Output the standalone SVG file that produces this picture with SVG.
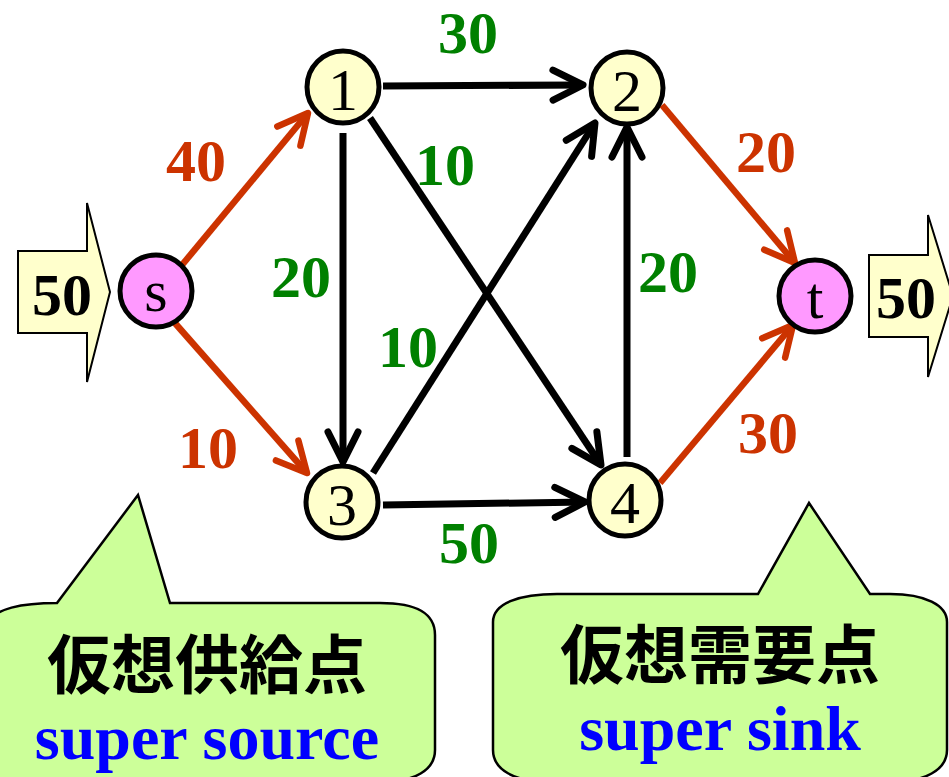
<svg xmlns="http://www.w3.org/2000/svg" width="949" height="777" viewBox="0 0 949 777">
<style>
.lbl{font-family:"Liberation Serif","Times New Roman",serif;font-weight:bold;font-size:60px;text-anchor:middle}
.g{fill:#008000}
.r{fill:#CC3300}
.nd{stroke:#000;stroke-width:5}
.nt{font-family:"Liberation Serif","Times New Roman",serif;font-size:60px;text-anchor:middle;fill:#000}
.blk{stroke:#000;stroke-width:7;fill:none}
.red{stroke:#CC3300;stroke-width:6.5;fill:none}
.blockarrow{fill:#FFFFCC;stroke:#000;stroke-width:2}
.callout{fill:#CCFF99;stroke:#000;stroke-width:2.5}
.cjk{font-family:"Noto Sans CJK JP","Noto Sans CJK SC",sans-serif;font-weight:bold;font-size:64px;text-anchor:middle;fill:#000}
.en{font-family:"Liberation Serif","Times New Roman",serif;font-weight:bold;font-size:64px;text-anchor:middle;fill:#0000FF}
</style>
<defs>
<marker id="ab" markerUnits="userSpaceOnUse" markerWidth="60" markerHeight="60" refX="0" refY="0" orient="auto" overflow="visible">
<path d="M-30,-15 L0,0 L-30,15" fill="none" stroke="#000" stroke-width="7" stroke-linecap="round" stroke-linejoin="round"/>
</marker>
<marker id="ar" markerUnits="userSpaceOnUse" markerWidth="60" markerHeight="60" refX="0" refY="0" orient="auto" overflow="visible">
<path d="M-30,-15 L0,0 L-30,15" fill="none" stroke="#CC3300" stroke-width="6.5" stroke-linecap="round" stroke-linejoin="round"/>
</marker>
</defs>

<g id="supply-arrow">
<polygon class="blockarrow" points="18,251 87,251 87,203 110,292 87,382 87,333 18,333"/>
<text class="lbl" x="62" y="315" fill="#000" font-size="62">50</text>
</g>
<g id="demand-arrow">
<polygon class="blockarrow" points="869,255 928,255 928,215 953,296 928,377 928,337 869,337"/>
<text class="lbl" x="906" y="318" fill="#000" font-size="62">50</text>
</g>

<g id="callout-source">
<path class="callout" d="M -10,625 C -10,608 25,603 57,603 L 138,495 L 170,603 L 380,603 C 415,603 435,612 435,635 L 435,750 C 435,770 415,782 380,782 L -10,782 Z"/>
<text class="cjk" x="207" y="688">仮想供給点</text>
<text class="en" x="207" y="759">super source</text>
</g>
<g id="callout-sink">
<path class="callout" d="M 493,622 C 493,603 520,594 557,594 L 758,594 L 809,503 L 870,594 L 890,594 C 925,594 947,605 947,622 L 947,750 C 947,770 925,782 890,782 L 550,782 C 515,782 493,770 493,750 Z"/>
<text class="cjk" x="720" y="678">仮想需要点</text>
<text class="en" x="720" y="750">super sink</text>
</g>

<g id="connectors">
<line class="red" x1="182" y1="265" x2="308" y2="113" marker-end="url(#ar)"/>
<line class="red" x1="174" y1="322" x2="307" y2="473" marker-end="url(#ar)"/>
<line class="blk" x1="383" y1="86" x2="583" y2="85" marker-end="url(#ab)"/>
<line class="blk" x1="343" y1="133" x2="343" y2="462" marker-end="url(#ab)"/>
<line class="blk" x1="370" y1="118" x2="601" y2="465" marker-end="url(#ab)"/>
<line class="blk" x1="373" y1="473" x2="595" y2="123" marker-end="url(#ab)"/>
<line class="blk" x1="627" y1="457" x2="627" y2="127" marker-end="url(#ab)"/>
<line class="blk" x1="383" y1="505" x2="585" y2="502" marker-end="url(#ab)"/>
<line class="red" x1="662" y1="105" x2="795" y2="263" marker-end="url(#ar)"/>
<line class="red" x1="660" y1="483" x2="793" y2="325" marker-end="url(#ar)"/>
</g>

<g id="edge-labels">
<text class="lbl g" x="468" y="53">30</text>
<text class="lbl r" x="196" y="181">40</text>
<text class="lbl r" x="208" y="468">10</text>
<text class="lbl g" x="445" y="185">10</text>
<text class="lbl g" x="301" y="297">20</text>
<text class="lbl g" x="408" y="367">10</text>
<text class="lbl g" x="668" y="292">20</text>
<text class="lbl r" x="766" y="172">20</text>
<text class="lbl r" x="768" y="453">30</text>
<text class="lbl g" x="469" y="563">50</text>
</g>

<g id="node-s"><circle class="nd" cx="156" cy="291" r="36" fill="#FF99FF"/><text class="nt" x="156" y="311">s</text></g>
<g id="node-t"><circle class="nd" cx="815" cy="296" r="36" fill="#FF99FF"/><text class="nt" x="815" y="318">t</text></g>
<g id="node-1"><circle class="nd" cx="343" cy="87" r="36" fill="#FFFFCC"/><text class="nt" x="343" y="110">1</text></g>
<g id="node-2"><circle class="nd" cx="627" cy="88" r="36" fill="#FFFFCC"/><text class="nt" x="627" y="111">2</text></g>
<g id="node-3"><circle class="nd" cx="342" cy="502" r="36" fill="#FFFFCC"/><text class="nt" x="342" y="525">3</text></g>
<g id="node-4"><circle class="nd" cx="625" cy="500" r="36" fill="#FFFFCC"/><text class="nt" x="625" y="523">4</text></g>
</svg>
